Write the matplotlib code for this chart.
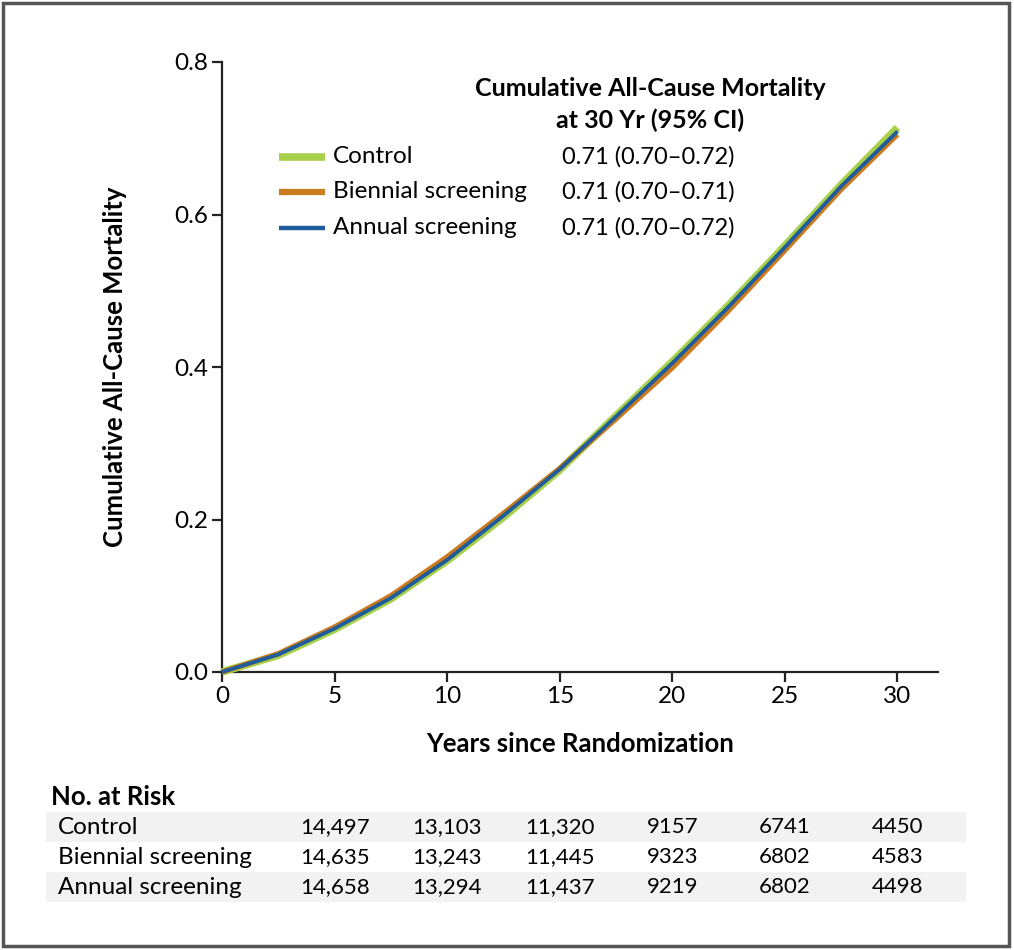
import matplotlib
matplotlib.use("Agg")
import matplotlib.pyplot as plt
from matplotlib.lines import Line2D
from matplotlib.patches import Rectangle

# ---- data ----
years = [0, 2.5, 5, 7.5, 10, 12.5, 15, 17.5, 20, 22.5, 25, 27.5, 30]
control = [0, 0.022, 0.056, 0.096, 0.146, 0.203, 0.265, 0.336, 0.407, 0.481, 0.559, 0.639, 0.714]
biennial = [0, 0.024, 0.059, 0.100, 0.151, 0.208, 0.267, 0.332, 0.399, 0.474, 0.553, 0.633, 0.705]
annual = [0, 0.023, 0.057, 0.097, 0.147, 0.205, 0.266, 0.335, 0.405, 0.479, 0.557, 0.637, 0.709]

series_names = ["Control", "Biennial screening", "Annual screening"]
ci_text = ["0.71 (0.70\u20130.72)", "0.71 (0.70\u20130.71)", "0.71 (0.70\u20130.72)"]

xticks = [0, 5, 10, 15, 20, 25, 30]
yticks = [0.0, 0.2, 0.4, 0.6, 0.8]

risk_years = [5, 10, 15, 20, 25, 30]
risk_control = ["14,497", "13,103", "11,320", "9157", "6741", "4450"]
risk_biennial = ["14,635", "13,243", "11,445", "9323", "6802", "4583"]
risk_annual = ["14,658", "13,294", "11,437", "9219", "6802", "4498"]

colors = ["#A8D04A", "#CC7A1E", "#1E5C9C"]
widths = [5.5, 3.8, 2.8]

plt.rcParams['font.family'] = ['Lato', 'DejaVu Sans']

W, H = 1014, 950
fig = plt.figure(figsize=(W / 100, H / 100), dpi=100)

def fx(px):
    return px / W

def fy(py):
    return 1 - py / H

ax = fig.add_axes([fx(222), fy(672), fx(938) - fx(222), fy(62) - fy(672)])
ax.set_xlim(0, 31.8)
ax.set_ylim(0, 0.8)

for ys, c, lw in zip([control, biennial, annual], colors, widths):
    ax.plot(years, ys, color=c, lw=lw, solid_capstyle='butt', clip_on=False, zorder=3)

for s in ['top', 'right']:
    ax.spines[s].set_visible(False)
for s in ['left', 'bottom']:
    ax.spines[s].set_linewidth(1.6)
    ax.spines[s].set_color('#222222')
ax.set_xticks(xticks)
ax.set_yticks(yticks)
ax.set_xticklabels([str(t) for t in xticks])
ax.set_yticklabels(["%.1f" % t for t in yticks])
ax.tick_params(direction='out', length=7, width=1.6, color='#222222',
               labelsize=17.5, pad=3)
ax.set_ylabel("Cumulative All-Cause Mortality", fontsize=18.5, fontweight='bold', labelpad=34)
ax.set_xlabel("Years since Randomization", fontsize=18.5, fontweight='bold', labelpad=18)

# legend block (manual)
fig.text(fx(650), fy(89), "Cumulative All-Cause Mortality", ha='center', va='center',
         fontsize=18, fontweight='bold')
fig.text(fx(650), fy(120), "at 30 Yr (95% CI)", ha='center', va='center',
         fontsize=18, fontweight='bold')
leg_y = [157, 192, 228]
for name, ci, c, lw, py in zip(series_names, ci_text, colors, [5.5, 4.5, 3.2], leg_y):
    fig.add_artist(Line2D([fx(279), fx(325)], [fy(py), fy(py)], color=c, lw=lw,
                          solid_capstyle='butt', transform=fig.transFigure))
    fig.text(fx(333), fy(py), name, ha='left', va='center', fontsize=17.5)
    fig.text(fx(562), fy(py), ci, ha='left', va='center', fontsize=17)

# number at risk table
fig.text(fx(51), fy(797), "No. at Risk", ha='left', va='center', fontsize=18.5, fontweight='bold')
row_y = [827, 857, 887]
for i, (name, vals, py) in enumerate(zip(series_names, [risk_control, risk_biennial, risk_annual], row_y)):
    if i != 1:
        fig.add_artist(Rectangle((fx(46), fy(py + 15)), fx(966) - fx(46), (30 / H),
                                 transform=fig.transFigure, facecolor='#F2F2F2',
                                 edgecolor='none', zorder=0))
    fig.text(fx(58), fy(py), name, ha='left', va='center', fontsize=17.5)
    for yr, v in zip(risk_years, vals):
        xdisp = ax.transData.transform((yr, 0))[0]
        xfig = fig.transFigure.inverted().transform((xdisp, 0))[0]
        fig.text(xfig, fy(py), v, ha='center', va='center', fontsize=16)

# outer frame
fig.add_artist(Rectangle((fx(3), fy(946)), fx(1009) - fx(3), fy(3) - fy(946),
                         transform=fig.transFigure, facecolor='none',
                         edgecolor='#555555', lw=2.5, zorder=10))

fig.savefig("out.png", dpi=100)
